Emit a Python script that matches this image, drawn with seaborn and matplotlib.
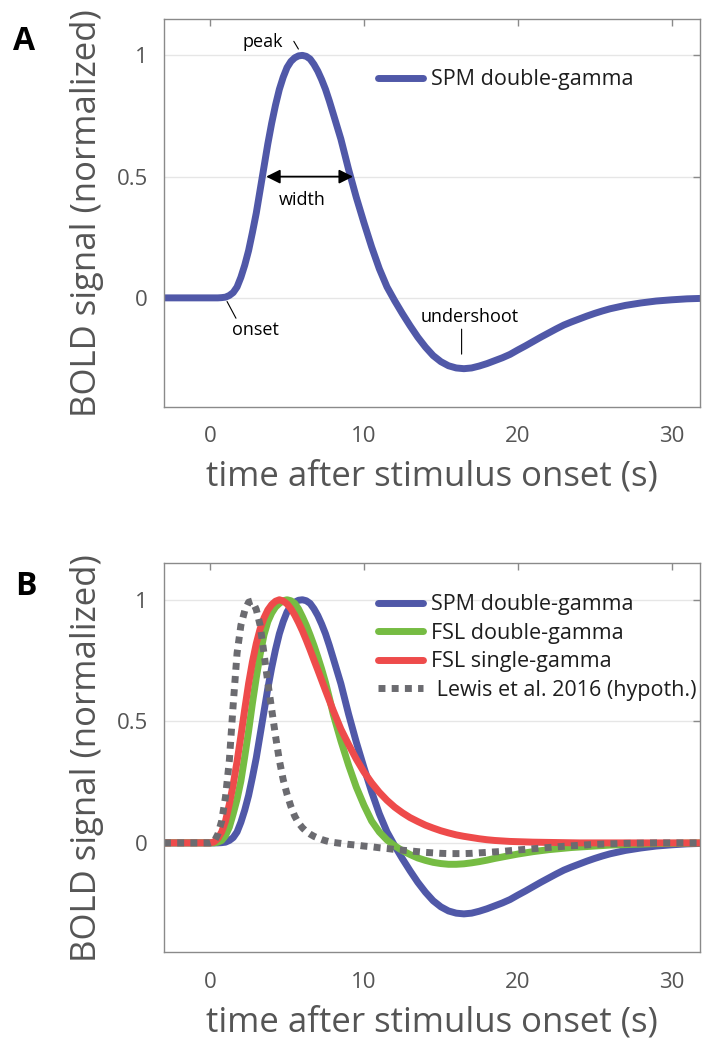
import matplotlib
matplotlib.use("Agg")
import numpy as np
import pandas as pd
import matplotlib.pyplot as plt
import seaborn as sns

# ---------------- data ----------------
TIME_S = [-3, 0, 0.25, 0.5, 0.75, 1.0, 1.25, 1.5, 1.75, 2.0, 2.25, 2.5, 2.75,
          3.0, 3.25, 3.5, 3.75, 4.0, 4.25, 4.5, 4.75, 5.0, 5.25, 5.5, 5.75,
          6.0, 6.25, 6.5, 6.75, 7.0, 7.25, 7.5, 7.75, 8.0,
          8.5, 9.0, 9.5, 10, 10.5, 11, 11.5, 12, 12.5, 13, 13.5, 14, 14.5,
          15, 15.5, 16, 16.5, 17, 17.5, 18, 18.5, 19, 19.5, 20,
          20.5, 21, 21.5, 22, 22.5, 23, 23.5, 24, 24.5, 25, 25.5, 26,
          27, 28, 29, 30, 31, 32]

SPM_DOUBLE_GAMMA = [0, 0, 0, 0, 0.001, 0.003, 0.010, 0.022, 0.045, 0.085, 0.135, 0.195, 0.27,
                    0.35, 0.445, 0.54, 0.635, 0.72, 0.795, 0.86, 0.91, 0.95, 0.975, 0.99, 0.998,
                    1.0, 0.996, 0.985, 0.963, 0.935, 0.90, 0.86, 0.812, 0.76,
                    0.655, 0.53, 0.415, 0.31, 0.21, 0.12, 0.045, -0.012, -0.065, -0.115, -0.162, -0.203, -0.238,
                    -0.263, -0.28, -0.289, -0.292, -0.289, -0.281, -0.271, -0.259, -0.247, -0.233, -0.215,
                    -0.198, -0.18, -0.162, -0.145, -0.128, -0.112, -0.099, -0.087, -0.075, -0.064, -0.054, -0.045,
                    -0.031, -0.021, -0.013, -0.008, -0.004, -0.002]

FSL_DOUBLE_GAMMA = [0, 0, 0, 0.003, 0.01, 0.03, 0.065, 0.12, 0.18, 0.255, 0.355, 0.46, 0.575,
                    0.68, 0.775, 0.855, 0.91, 0.945, 0.97, 0.985, 0.996, 1.0, 0.996, 0.985, 0.962,
                    0.93, 0.895, 0.855, 0.812, 0.765, 0.715, 0.66, 0.597, 0.53,
                    0.42, 0.32, 0.23, 0.155, 0.09, 0.045, 0.012, -0.012, -0.032, -0.048, -0.062, -0.072, -0.080,
                    -0.085, -0.088, -0.088, -0.086, -0.082, -0.077, -0.071, -0.064, -0.058, -0.052, -0.046,
                    -0.041, -0.036, -0.032, -0.028, -0.025, -0.022, -0.019, -0.017, -0.015, -0.013, -0.011, -0.009,
                    -0.007, -0.005, -0.003, -0.002, -0.001, 0]

FSL_SINGLE_GAMMA = [0, 0, 0.004, 0.018, 0.045, 0.09, 0.16, 0.24, 0.335, 0.44, 0.55, 0.655, 0.745,
                    0.82, 0.88, 0.925, 0.958, 0.98, 0.994, 1.0, 0.995, 0.983, 0.963, 0.937, 0.906,
                    0.872, 0.834, 0.794, 0.752, 0.711, 0.669, 0.627, 0.586, 0.545,
                    0.468, 0.405, 0.345, 0.292, 0.247, 0.208, 0.175, 0.147, 0.124, 0.104, 0.088, 0.073, 0.061,
                    0.05, 0.041, 0.033, 0.027, 0.022, 0.017, 0.013, 0.010, 0.008, 0.006, 0.005,
                    0.004, 0.003, 0.0025, 0.002, 0.0015, 0.001, 0.0005, 0, 0, 0, 0, 0,
                    0, 0, 0, 0, 0, 0]

LEWIS_2016 = [0, 0, 0.005, 0.035, 0.09, 0.19, 0.34, 0.57, 0.78, 0.895, 0.955, 0.99, 0.995,
              0.96, 0.895, 0.78, 0.66, 0.55, 0.44, 0.34, 0.26, 0.20, 0.15, 0.11, 0.082,
              0.062, 0.047, 0.036, 0.027, 0.02, 0.014, 0.009, 0.005, 0.002,
              -0.002, -0.006, -0.009, -0.013, -0.016, -0.020, -0.023, -0.027, -0.030, -0.033, -0.036, -0.039, -0.041,
              -0.043, -0.044, -0.044, -0.044, -0.043, -0.041, -0.039, -0.037, -0.035, -0.032, -0.029,
              -0.0265, -0.024, -0.0215, -0.019, -0.0165, -0.014, -0.012, -0.010, -0.008, -0.006, -0.005, -0.004,
              -0.002, -0.001, 0, 0, 0, 0]

SERIES_LABELS = ["SPM double-gamma", "FSL double-gamma", "FSL single-gamma",
                 " Lewis et al. 2016 (hypoth.)"]
X_TICKS = [0, 10, 20, 30]
Y_TICKS = [0, 0.5, 1]
Y_TICK_LABELS = ["0", "0.5", "1"]
X_LABEL = "time after stimulus onset (s)"
Y_LABEL = "BOLD signal (normalized)"

# ---------------- style ----------------
sns.set_theme(style="white")
plt.rcParams['font.family'] = ['Open Sans', 'DejaVu Sans']

BLUE, GREEN, RED, GRAY = '#5058A8', '#76BC43', '#EE4B4B', '#6B6B70'
AX_GRAY = '#8a8a8a'
TXT_GRAY = '#555555'
LW = 5.0

df = pd.DataFrame({"t": TIME_S, "spm": SPM_DOUBLE_GAMMA, "fsl2": FSL_DOUBLE_GAMMA,
                   "fsl1": FSL_SINGLE_GAMMA, "lewis": LEWIS_2016})

fig = plt.figure(figsize=(7.02, 10.40), dpi=100)
W, H = 702.0, 1040.0
axA = fig.add_axes([164 / W, 1 - 407 / H, 536 / W, 388 / H])
axB = fig.add_axes([164 / W, 1 - 952.3 / H, 536 / W, 389 / H])


def style(ax):
    ax.set_xlim(-3, 31.85)
    ax.set_ylim(-0.45, 1.15)
    ax.set_xticks(X_TICKS)
    ax.set_xticklabels([str(t) for t in X_TICKS])
    ax.set_yticks(Y_TICKS)
    ax.set_yticklabels(Y_TICK_LABELS)
    ax.set_axisbelow(True)
    ax.grid(False)
    ax.yaxis.grid(True, color='#e6e6e6', lw=1.0)
    ax.tick_params(axis='both', direction='in', length=5, width=1.0, color=AX_GRAY,
                   top=True, right=True, labelsize=16, labelcolor=TXT_GRAY)
    ax.tick_params(axis='y', pad=11.5)
    ax.tick_params(axis='x', pad=14)
    for sp in ax.spines.values():
        sp.set_visible(True)
        sp.set_color(AX_GRAY)
        sp.set_linewidth(1.0)
    ax.set_xlabel(X_LABEL, fontsize=25, color=TXT_GRAY, labelpad=9)
    ax.set_ylabel(Y_LABEL, fontsize=25, color=TXT_GRAY, labelpad=9)


# ---------------- panel A ----------------
sns.lineplot(data=df, x="t", y="spm", ax=axA, color=BLUE, linewidth=LW,
             label=SERIES_LABELS[0], sort=False, estimator=None)
style(axA)
legA = axA.legend(loc='upper left', bbox_to_anchor=(0.3993, 0.870), frameon=False,
                  fontsize=15.5, handlelength=2.1, handletextpad=0.35, borderpad=0,
                  borderaxespad=0, labelspacing=0.35, labelcolor='#1e1e1e')

ANN = dict(fontsize=13, color='black')
peak_i = int(np.argmax(SPM_DOUBLE_GAMMA))
under_i = int(np.argmin(SPM_DOUBLE_GAMMA))
peak_t = TIME_S[peak_i]
under_t = TIME_S[under_i]
axA.text(peak_t - 2.56, 1.034, "peak", ha='center', va='baseline', **ANN)
axA.annotate('', xy=(peak_t - 0.26, 1.026), xytext=(peak_t - 0.56, 1.058),
             arrowprops=dict(arrowstyle='-', color='black', lw=0.8, shrinkA=0, shrinkB=0))
axA.annotate('', xy=(9.29, 0.5), xytext=(3.64, 0.5),
             arrowprops=dict(arrowstyle='<|-|>,head_length=0.6,head_width=0.3',
                             color='black', lw=1.3, shrinkA=0, shrinkB=0, mutation_scale=14))
axA.text(6.0, 0.44, "width", ha='center', va='top', **ANN)
axA.text(2.97, -0.152, "onset", ha='center', va='baseline', **ANN)
axA.annotate('', xy=(1.10, -0.015), xytext=(1.68, -0.084),
             arrowprops=dict(arrowstyle='-', color='black', lw=0.8, shrinkA=0, shrinkB=0))
axA.text(under_t + 0.4, -0.098, "undershoot", ha='center', va='baseline', **ANN)
axA.annotate('', xy=(under_t - 0.15, -0.129), xytext=(under_t - 0.15, -0.232),
             arrowprops=dict(arrowstyle='-', color='black', lw=0.8, shrinkA=0, shrinkB=0))

# ---------------- panel B ----------------
sns.lineplot(data=df, x="t", y="spm", ax=axB, color=BLUE, linewidth=LW,
             label=SERIES_LABELS[0], sort=False, estimator=None)
sns.lineplot(data=df, x="t", y="fsl2", ax=axB, color=GREEN, linewidth=LW,
             label=SERIES_LABELS[1], sort=False, estimator=None)
sns.lineplot(data=df, x="t", y="fsl1", ax=axB, color=RED, linewidth=LW,
             label=SERIES_LABELS[2], sort=False, estimator=None)
sns.lineplot(data=df, x="t", y="lewis", ax=axB, color=GRAY, linewidth=LW,
             label=SERIES_LABELS[3], sort=False, estimator=None)
lewis_line = axB.lines[-1]
lewis_line.set_linestyle((0, (1, 0.9)))
lewis_line.set_dash_capstyle('butt')
style(axB)
legB = axB.legend(loc='upper left', bbox_to_anchor=(0.3993, 0.920), frameon=False,
                  fontsize=15.5, handlelength=2.1, handletextpad=0.35, borderpad=0,
                  borderaxespad=0, labelspacing=0.35, labelcolor='#1e1e1e')
for h in legB.get_lines():
    if str(h.get_color()).lower() == GRAY.lower():
        h.set_linestyle((0, (1, 0.9)))
        h.set_dash_capstyle('butt')

# ---------------- panel letters ----------------
fig.text(13 / W, 1 - 50 / H, "A", fontsize=23, fontweight='bold', color='black',
         ha='left', va='baseline')
fig.text(15 / W, 1 - 595 / H, "B", fontsize=23, fontweight='bold', color='black',
         ha='left', va='baseline')

fig.savefig("out.png", dpi=100)
